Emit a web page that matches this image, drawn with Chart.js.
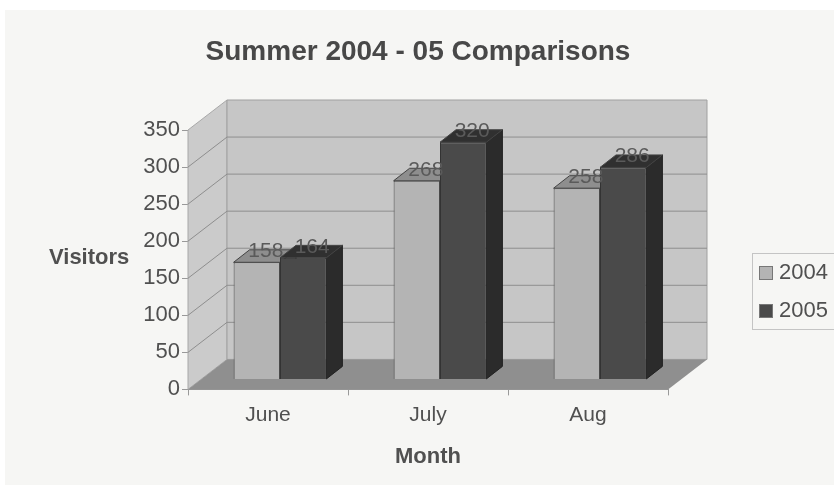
<!DOCTYPE html>
<html>
<head>
<meta charset="utf-8">
<title>Summer 2004 - 05 Comparisons</title>
<script src="https://cdn.jsdelivr.net/npm/chart.js@4"></script>
<style>
  html, body { margin: 0; background: #fff; }
  #wrap { width: 834px; height: 497px; position: relative; }
  #paper { position: absolute; left: 5px; top: 10px; width: 829px; height: 475px; background: #f6f6f4; }
  canvas { position: absolute; left: 0; top: 0; filter: blur(0.6px); }
</style>
</head>
<body>
<div id="wrap">
  <div id="paper"></div>
  <canvas id="chart" width="834" height="497"></canvas>
</div>
<script>
const months = ['June', 'July', 'Aug'];
const visitors2004 = [158, 268, 258];
const visitors2005 = [164, 320, 286];
const yTicks = [0, 50, 100, 150, 200, 250, 300, 350];

const FONT = '"Liberation Sans", Arial, sans-serif';
const TEXT = '#505050';
// how far the back wall sits behind the axis, and the bars behind the axis
const WALL_DX = 39, WALL_DY = -30;
const BAR_DX = 12, BAR_DY = -10;
const SIDE_DX = 16, SIDE_DY = -12.5;

const faces = [
  { front: '#b4b4b4', top: '#8e8e8e', side: '#8a8a8a' },
  { front: '#4a4a4a', top: '#303030', side: '#2b2b2b' },
];

function poly(ctx, pts, fill, stroke) {
  ctx.beginPath();
  pts.forEach((p, i) => i ? ctx.lineTo(p[0], p[1]) : ctx.moveTo(p[0], p[1]));
  ctx.closePath();
  if (fill) { ctx.fillStyle = fill; ctx.fill(); }
  if (stroke) { ctx.strokeStyle = stroke; ctx.lineWidth = 1; ctx.stroke(); }
}

// ---------- walls and floor, behind the bars ----------
const box3d = {
  id: 'box3d',
  beforeDatasetsDraw(chart) {
    const { ctx, scales: { x, y }, chartArea: a } = chart;
    const y0 = y.getPixelForValue(0), yMax = y.getPixelForValue(350);
    ctx.save();
    poly(ctx, [[a.left, yMax], [a.left + WALL_DX, yMax + WALL_DY], [a.left + WALL_DX, y0 + WALL_DY], [a.left, y0]], '#cbcbcb', '#a8a8a8');
    poly(ctx, [[a.left + WALL_DX, yMax + WALL_DY], [a.right + WALL_DX, yMax + WALL_DY], [a.right + WALL_DX, y0 + WALL_DY], [a.left + WALL_DX, y0 + WALL_DY]], '#c6c6c6', '#a0a0a0');
    yTicks.slice(1, -1).forEach(v => {
      const py = y.getPixelForValue(v);
      ctx.beginPath();
      ctx.moveTo(a.left, py);
      ctx.lineTo(a.left + WALL_DX, py + WALL_DY);
      ctx.lineTo(a.right + WALL_DX, py + WALL_DY);
      ctx.strokeStyle = '#8e8e8e';
      ctx.stroke();
    });
    poly(ctx, [[a.left, y0], [a.left + WALL_DX, y0 + WALL_DY], [a.right + WALL_DX, y0 + WALL_DY], [a.right, y0]], '#8f8f8f', null);
    ctx.restore();

    // side and top faces first, then the library draws the fronts on top
    ctx.save();
    ctx.translate(BAR_DX, BAR_DY);
    chart.data.datasets.forEach((ds, i) => {
      chart.getDatasetMeta(i).data.forEach(bar => {
        const l = bar.x - bar.width / 2, r = bar.x + bar.width / 2;
        poly(ctx, [[r, bar.y], [r + SIDE_DX, bar.y + SIDE_DY], [r + SIDE_DX, bar.base + SIDE_DY], [r, bar.base]], faces[i].side, '#222');
        poly(ctx, [[l, bar.y], [l + SIDE_DX, bar.y + SIDE_DY], [r + SIDE_DX, bar.y + SIDE_DY], [r, bar.y]], faces[i].top, '#444');
      });
    });
    // the front faces stay shifted until afterDatasetsDraw
  },
  afterDatasetsDraw(chart) {
    const { ctx } = chart;
    ctx.restore();

    // value labels
    ctx.save();
    ctx.font = '21px ' + FONT;
    ctx.fillStyle = '#5a5a5a';
    ctx.textAlign = 'center';
    ctx.textBaseline = 'middle';
    chart.data.datasets.forEach((ds, i) => {
      chart.getDatasetMeta(i).data.forEach((bar, j) => {
        ctx.fillText(ds.data[j], bar.x + BAR_DX + 9, bar.y + BAR_DY - 11);
      });
    });

    // chart title, centred on the whole page
    ctx.font = 'bold 28px ' + FONT;
    ctx.fillStyle = '#484848';
    ctx.fillText('Summer 2004 - 05 Comparisons', 418, 52);

    // horizontal axis title on the left
    ctx.font = 'bold 22px ' + FONT;
    ctx.fillStyle = TEXT;
    ctx.textAlign = 'left';
    ctx.fillText('Visitors', 49, 258);

    // legend with its frame
    ctx.strokeStyle = '#c4c4c4';
    ctx.lineWidth = 1;
    ctx.strokeRect(752.5, 253.5, 90, 76);
    chart.data.datasets.forEach((ds, i) => {
      const rowY = 273 + i * 38;
      ctx.fillStyle = ds.backgroundColor;
      ctx.strokeStyle = '#777';
      ctx.fillRect(759, rowY - 7, 14, 14);
      ctx.strokeRect(759.5, rowY - 6.5, 13, 13);
      ctx.fillStyle = TEXT;
      ctx.font = '22px ' + FONT;
      ctx.fillText(ds.label, 779, rowY);
    });
    ctx.restore();
  },
};

new Chart(document.getElementById('chart'), {
  type: 'bar',
  data: {
    labels: months,
    datasets: [
      { label: '2004', data: visitors2004, backgroundColor: faces[0].front, borderColor: '#4a4a4a', borderWidth: 1 },
      { label: '2005', data: visitors2005, backgroundColor: faces[1].front, borderColor: '#333', borderWidth: 1 },
    ],
  },
  options: {
    responsive: false,
    animation: false,
    layout: { padding: { top: 130, right: 166, bottom: 27, left: 0 } },
    datasets: { bar: { categoryPercentage: 0.58, barPercentage: 1 } },
    plugins: {
      legend: { display: false },
      tooltip: { enabled: false },
    },
    scales: {
      x: {
        grid: { drawOnChartArea: false, color: '#999', tickLength: 6 },
        border: { color: '#999' },
        ticks: { color: TEXT, font: { family: FONT, size: 21 }, padding: 7 },
        title: { display: true, text: 'Month', color: TEXT, font: { family: FONT, size: 22, weight: 'bold' }, padding: { top: 9, bottom: 0 } },
      },
      y: {
        min: 0,
        max: 350,
        afterBuildTicks(scale) { scale.ticks = yTicks.map(value => ({ value })); },
        afterFit(scale) { scale.width = 188; },
        grid: { drawOnChartArea: false, color: '#999', tickLength: 6 },
        border: { color: '#999' },
        ticks: { color: TEXT, font: { family: FONT, size: 22 }, padding: 2 },
      },
    },
  },
  plugins: [box3d],
});
</script>
</body>
</html>
